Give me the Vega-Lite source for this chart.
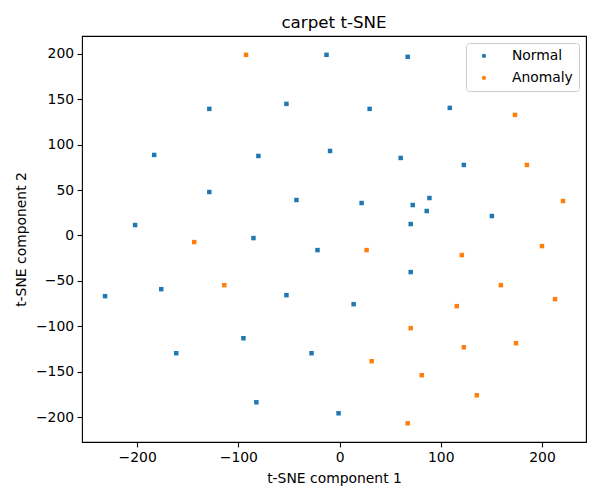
{
  "$schema": "https://vega.github.io/schema/vega-lite/v6.json",
  "width": 504,
  "height": 406,
  "autosize": {"type": "none"},
  "padding": {"left": 82, "top": 36, "right": 14, "bottom": 58},
  "title": {"text": "carpet t-SNE", "fontSize": 16.7, "font": "DejaVu Sans", "fontWeight": "normal", "color": "black", "offset": 4},
  "data": {
    "values": [
      {"x": -12.9, "y": 198.8, "label": "Normal"},
      {"x": -128.7, "y": 139.3, "label": "Normal"},
      {"x": -52.5, "y": 144.8, "label": "Normal"},
      {"x": -183.2, "y": 88.6, "label": "Normal"},
      {"x": -80.2, "y": 87.5, "label": "Normal"},
      {"x": -9.4, "y": 93.0, "label": "Normal"},
      {"x": -128.7, "y": 47.8, "label": "Normal"},
      {"x": -42.6, "y": 39.0, "label": "Normal"},
      {"x": -202.0, "y": 11.5, "label": "Normal"},
      {"x": -85.1, "y": -2.9, "label": "Normal"},
      {"x": 67.3, "y": 196.6, "label": "Normal"},
      {"x": 29.7, "y": 139.3, "label": "Normal"},
      {"x": 108.9, "y": 140.4, "label": "Normal"},
      {"x": 60.4, "y": 85.3, "label": "Normal"},
      {"x": 122.8, "y": 77.6, "label": "Normal"},
      {"x": 21.8, "y": 35.7, "label": "Normal"},
      {"x": 72.3, "y": 33.5, "label": "Normal"},
      {"x": 88.8, "y": 41.2, "label": "Normal"},
      {"x": 86.1, "y": 26.9, "label": "Normal"},
      {"x": 70.3, "y": 12.6, "label": "Normal"},
      {"x": 150.5, "y": 21.4, "label": "Normal"},
      {"x": -21.8, "y": -16.1, "label": "Normal"},
      {"x": -231.7, "y": -66.8, "label": "Normal"},
      {"x": -176.2, "y": -59.1, "label": "Normal"},
      {"x": -52.5, "y": -65.7, "label": "Normal"},
      {"x": -95.0, "y": -113.1, "label": "Normal"},
      {"x": -161.4, "y": -129.6, "label": "Normal"},
      {"x": -27.7, "y": -129.6, "label": "Normal"},
      {"x": -82.2, "y": -183.6, "label": "Normal"},
      {"x": 70.3, "y": -40.3, "label": "Normal"},
      {"x": 13.9, "y": -75.6, "label": "Normal"},
      {"x": -1.0, "y": -195.7, "label": "Normal"},
      {"x": -92.4, "y": 198.8, "label": "Anomaly"},
      {"x": 173.3, "y": 132.7, "label": "Anomaly"},
      {"x": 185.1, "y": 77.6, "label": "Anomaly"},
      {"x": 220.8, "y": 37.9, "label": "Anomaly"},
      {"x": -143.6, "y": -7.3, "label": "Anomaly"},
      {"x": -113.9, "y": -54.7, "label": "Anomaly"},
      {"x": 26.7, "y": -16.1, "label": "Anomaly"},
      {"x": 120.8, "y": -21.6, "label": "Anomaly"},
      {"x": 200.0, "y": -11.7, "label": "Anomaly"},
      {"x": 159.4, "y": -54.7, "label": "Anomaly"},
      {"x": 212.9, "y": -70.1, "label": "Anomaly"},
      {"x": 115.8, "y": -77.8, "label": "Anomaly"},
      {"x": 70.3, "y": -102.0, "label": "Anomaly"},
      {"x": 122.8, "y": -123.0, "label": "Anomaly"},
      {"x": 174.3, "y": -118.6, "label": "Anomaly"},
      {"x": 31.7, "y": -138.4, "label": "Anomaly"},
      {"x": 81.2, "y": -153.8, "label": "Anomaly"},
      {"x": 135.6, "y": -175.9, "label": "Anomaly"},
      {"x": 67.3, "y": -206.7, "label": "Anomaly"}
    ]
  },
  "mark": {"type": "point", "shape": "square", "filled": true, "size": 20, "opacity": 1},
  "encoding": {
    "x": {
      "field": "x", "type": "quantitative",
      "scale": {"domain": [-254.5, 243.5], "nice": false, "zero": false},
      "axis": {"values": [-200, -100, 0, 100, 200], "title": "t-SNE component 1", "titlePadding": 7}
    },
    "y": {
      "field": "y", "type": "quantitative",
      "scale": {"domain": [-227.3, 219.5], "nice": false, "zero": false},
      "axis": {"values": [-200, -150, -100, -50, 0, 50, 100, 150, 200], "title": "t-SNE component 2", "titlePadding": 6.5}
    },
    "color": {
      "field": "label", "type": "nominal",
      "scale": {"domain": ["Normal", "Anomaly"], "range": ["#1f77b4", "#ff7f0e"]},
      "legend": {
        "title": null, "orient": "top-right", "offset": 7,
        "symbolType": "circle", "symbolSize": 18,
        "fillColor": "rgba(255,255,255,0.8)", "strokeColor": "#cccccc", "cornerRadius": 3,
        "padding": 6, "rowPadding": 7, "symbolOffset": 5, "labelOffset": 21,
        "labelFont": "DejaVu Sans", "labelFontSize": 13.9, "labelColor": "black"
      }
    }
  },
  "config": {
    "view": {"stroke": "black", "strokeWidth": 1.1},
    "axis": {
      "grid": false, "domain": false,
      "labelFont": "DejaVu Sans", "labelFontSize": 13.9, "labelColor": "black",
      "titleFont": "DejaVu Sans", "titleFontSize": 13.9, "titleFontWeight": "normal", "titleColor": "black",
      "tickColor": "black", "tickSize": 4.9, "tickWidth": 1.1, "labelPadding": 3.5
    }
  }
}
